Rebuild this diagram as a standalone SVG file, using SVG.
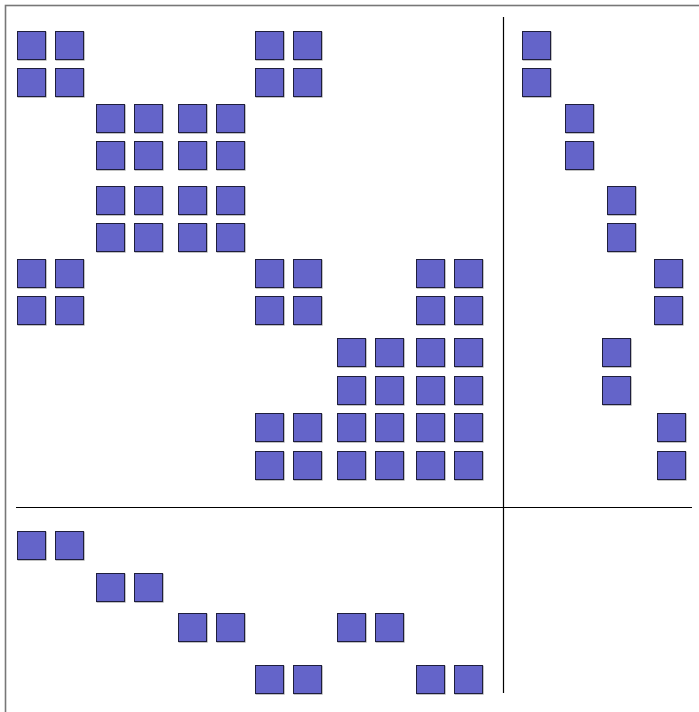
<svg xmlns="http://www.w3.org/2000/svg" width="699" height="712" viewBox="0 0 699 712">
<defs>
<style>
.c{fill:#6464c9;stroke:#1e1e3c;stroke-width:1}
.s{fill:none;stroke:#999;stroke-width:1}
.d{stroke:#000;stroke-width:1.2;fill:none}
</style>
<g id="cell"><rect x="0.5" y="0.5" width="28" height="28" class="s" transform="translate(0.6,0.6)"/><rect x="0.5" y="0.5" width="28" height="28" class="c"/></g>
</defs>
<rect x="0" y="0" width="699" height="712" fill="#fff"/>
<rect x="5.5" y="5.5" width="720" height="720" fill="none" stroke="#777" stroke-width="1.6"/>
<g id="connectors">
<line class="d" x1="503.5" y1="17" x2="503.5" y2="693"/>
<line class="d" x1="16" y1="507.5" x2="692" y2="507.5"/>
</g>
<g id="main">
<g id="r1"><use href="#cell" x="17" y="31"/><use href="#cell" x="55" y="31"/><use href="#cell" x="255" y="31"/><use href="#cell" x="293" y="31"/></g>
<g id="r2"><use href="#cell" x="17" y="68"/><use href="#cell" x="55" y="68"/><use href="#cell" x="255" y="68"/><use href="#cell" x="293" y="68"/></g>
<g id="r3"><use href="#cell" x="96" y="104"/><use href="#cell" x="134" y="104"/><use href="#cell" x="178" y="104"/><use href="#cell" x="216" y="104"/></g>
<g id="r4"><use href="#cell" x="96" y="141"/><use href="#cell" x="134" y="141"/><use href="#cell" x="178" y="141"/><use href="#cell" x="216" y="141"/></g>
<g id="r5"><use href="#cell" x="96" y="186"/><use href="#cell" x="134" y="186"/><use href="#cell" x="178" y="186"/><use href="#cell" x="216" y="186"/></g>
<g id="r6"><use href="#cell" x="96" y="223"/><use href="#cell" x="134" y="223"/><use href="#cell" x="178" y="223"/><use href="#cell" x="216" y="223"/></g>
<g id="r7"><use href="#cell" x="17" y="259"/><use href="#cell" x="55" y="259"/><use href="#cell" x="255" y="259"/><use href="#cell" x="293" y="259"/><use href="#cell" x="416" y="259"/><use href="#cell" x="454" y="259"/></g>
<g id="r8"><use href="#cell" x="17" y="296"/><use href="#cell" x="55" y="296"/><use href="#cell" x="255" y="296"/><use href="#cell" x="293" y="296"/><use href="#cell" x="416" y="296"/><use href="#cell" x="454" y="296"/></g>
<g id="r9"><use href="#cell" x="337" y="338"/><use href="#cell" x="375" y="338"/><use href="#cell" x="416" y="338"/><use href="#cell" x="454" y="338"/></g>
<g id="r10"><use href="#cell" x="337" y="376"/><use href="#cell" x="375" y="376"/><use href="#cell" x="416" y="376"/><use href="#cell" x="454" y="376"/></g>
<g id="r11"><use href="#cell" x="255" y="413"/><use href="#cell" x="293" y="413"/><use href="#cell" x="337" y="413"/><use href="#cell" x="375" y="413"/><use href="#cell" x="416" y="413"/><use href="#cell" x="454" y="413"/></g>
<g id="r12"><use href="#cell" x="255" y="451"/><use href="#cell" x="293" y="451"/><use href="#cell" x="337" y="451"/><use href="#cell" x="375" y="451"/><use href="#cell" x="416" y="451"/><use href="#cell" x="454" y="451"/></g>
</g>
<g id="right">
<use href="#cell" x="522" y="31"/><use href="#cell" x="522" y="68"/>
<use href="#cell" x="565" y="104"/><use href="#cell" x="565" y="141"/>
<use href="#cell" x="607" y="186"/><use href="#cell" x="607" y="223"/>
<use href="#cell" x="654" y="259"/><use href="#cell" x="654" y="296"/>
<use href="#cell" x="602" y="338"/><use href="#cell" x="602" y="376"/>
<use href="#cell" x="657" y="413"/><use href="#cell" x="657" y="451"/>
</g>
<g id="bottom">
<use href="#cell" x="17" y="531"/><use href="#cell" x="55" y="531"/>
<use href="#cell" x="96" y="573"/><use href="#cell" x="134" y="573"/>
<use href="#cell" x="178" y="613"/><use href="#cell" x="216" y="613"/><use href="#cell" x="337" y="613"/><use href="#cell" x="375" y="613"/>
<use href="#cell" x="255" y="665"/><use href="#cell" x="293" y="665"/><use href="#cell" x="416" y="665"/><use href="#cell" x="454" y="665"/>
</g>
</svg>
